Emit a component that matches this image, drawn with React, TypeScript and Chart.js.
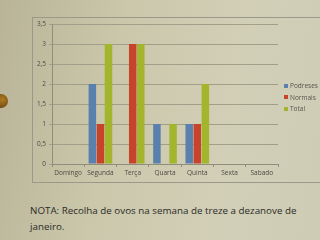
import React, { useEffect, useRef } from "react";
import { Chart, registerables } from "chart.js";

Chart.register(...registerables);

const categories = ["Domingo", "Segunda", "Terça", "Quarta", "Quinta", "Sexta", "Sabado"];
const podreses = [0, 2, 0, 1, 1, 0, 0];
const normais = [0, 1, 3, 0, 1, 0, 0];
const total = [0, 3, 3, 1, 2, 0, 0];
const seriesNames = ["Podreses", "Normais", "Total"];
const seriesColors = ["#5a80ad", "#c8432b", "#a3b52c"];
const noteLines = ["NOTA: Recolha de ovos na semana de treze a dezanove de", "janeiro."];

const FONT = "'Open Sans', 'DejaVu Sans', sans-serif";

export default function App() {
  const ref = useRef<HTMLCanvasElement>(null);
  useEffect(() => {
    if (!ref.current) return;
    const chart = new Chart(ref.current, {
      type: "bar",
      data: {
        labels: categories,
        datasets: [podreses, normais, total].map((d, i) => ({
          label: seriesNames[i],
          data: d,
          backgroundColor: seriesColors[i],
          borderWidth: 0,
          categoryPercentage: 0.75,
          barPercentage: 0.93,
        })),
      },
      options: {
        animation: false,
        responsive: false,
        devicePixelRatio: 1,
        layout: { padding: { top: 7, right: 42, bottom: 0, left: 0 } },
        plugins: { legend: { display: false }, tooltip: { enabled: false } },
        scales: {
          x: {
            grid: { drawOnChartArea: false, drawTicks: true, tickLength: 3, color: "#8f8d7c", offset: true },
            border: { color: "#8f8d7c" },
            ticks: { color: "#4a4a44", font: { family: FONT, size: 6.5 }, padding: 2, maxRotation: 0 },
            afterFit: (s: any) => { s.height = 18; },
          },
          y: {
            min: 0,
            max: 3.5,
            grid: { color: "#a19f8a", tickLength: 3 },
            border: { color: "#8f8d7c" },
            ticks: {
              stepSize: 0.5,
              color: "#4a4a44",
              font: { family: FONT, size: 6.5 },
              padding: 3,
              callback: (v: any) => String(v).replace(".", ","),
            },
            afterFit: (s: any) => { s.width = 20; },
          },
        },
      },
    });
    return () => chart.destroy();
  }, []);

  return (
    <div
      style={{
        position: "fixed",
        left: 0,
        top: 0,
        width: 320,
        height: 240,
        overflow: "hidden",
        background: "linear-gradient(100deg, #b9b497 0%, #cbc7ab 35%, #d2cfb7 70%, #cfccb6 100%)",
        fontFamily: FONT,
      }}
    >
      <div
        style={{
          position: "absolute",
          left: 0,
          top: 94,
          width: 14,
          height: 14,
          borderRadius: 7,
          marginLeft: -6,
          background: "radial-gradient(circle at 60% 40%, #b07a20, #5a3a10)",
        }}
      />
      <div
        style={{
          position: "absolute",
          left: 32,
          top: 17,
          width: 300,
          height: 164,
          borderLeft: "1px solid #9a988a",
          borderTop: "1px solid #9a988a",
          borderBottom: "1px solid #9a988a",
        }}
      />
      <canvas ref={ref} width={288} height={165} style={{ position: "absolute", left: 32, top: 17 }} />
      {seriesNames.map((n, i) => (
        <div
          key={n}
          style={{
            position: "absolute",
            left: 284,
            top: 81 + i * 11.5,
            fontSize: 6.5,
            color: "#55554d",
            display: "flex",
            alignItems: "center",
            whiteSpace: "nowrap",
          }}
        >
          <span style={{ display: "inline-block", width: 4, height: 4, background: seriesColors[i], marginRight: 2 }} />
          {n}
        </div>
      ))}
      <div
        style={{
          position: "absolute",
          left: 30,
          top: 203,
          fontSize: 9.8,
          lineHeight: "16px",
          color: "#2a2a28",
          whiteSpace: "nowrap",
        }}
      >
        {noteLines.map((l) => (
          <div key={l}>{l}</div>
        ))}
      </div>
    </div>
  );
}
